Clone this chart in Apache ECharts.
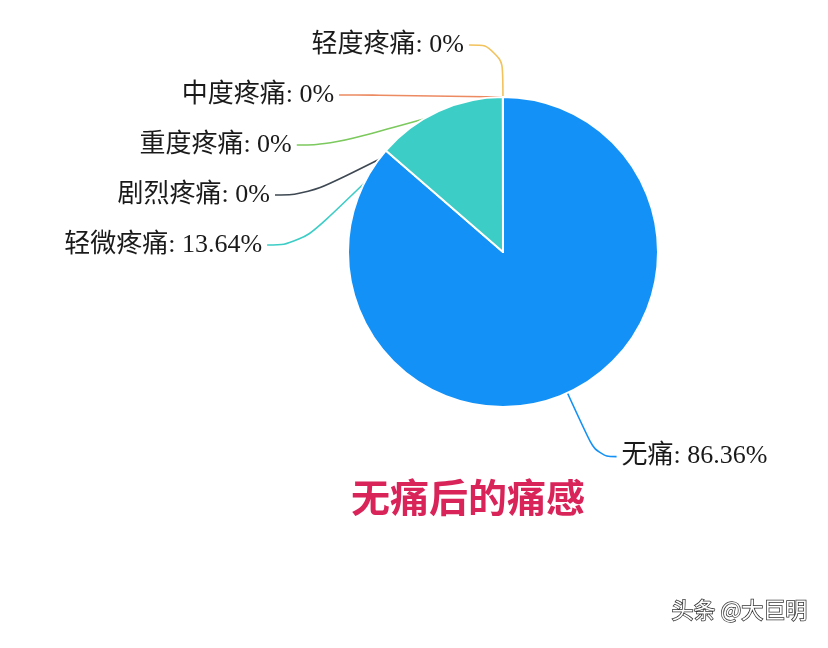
<!DOCTYPE html>
<html>
<head>
<meta charset="utf-8">
<script src="https://cdn.jsdelivr.net/npm/echarts@6/dist/echarts.min.js"></script>
<style>
html,body{margin:0;padding:0;background:#fff;}
#main{width:828px;height:648px;}
</style>
</head>
<body>
<div id="main"></div>
<script>
const categories = ['无痛', '轻微疼痛', '轻度疼痛', '中度疼痛', '重度疼痛', '剧烈疼痛'];
const values = [86.36, 13.64, 0, 0, 0, 0];
const colors = ['#1391f6', '#3ccdc6', '#f2c25c', '#ec8a62', '#7cc95e', '#3d4852'];
const titleText = '无痛后的痛感';
const watermark = '头条 @大巨明';

const chart = echarts.init(document.getElementById('main'));
chart.setOption({
  backgroundColor: '#fff',
  animation: false,
  title: {
    text: titleText,
    left: 463,
    top: 473,
    textAlign: 'center',
    textStyle: {
      color: '#d9245a',
      fontSize: 39,
      fontWeight: 'bold',
      fontFamily: 'Noto Sans CJK SC'
    }
  },
  graphic: [{
    type: 'text',
    right: 20,
    bottom: 27,
    style: {
      text: watermark,
      fill: '#fff',
      stroke: '#333',
      lineWidth: 1.5,
      font: '22px "Noto Sans CJK SC"'
    }
  }],
  series: [{
    type: 'pie',
    center: [503, 252],
    radius: 155,
    startAngle: 90.02,
    clockwise: true,
    avoidLabelOverlap: true,
    itemStyle: { borderColor: '#fff', borderWidth: 2 },
    label: {
      formatter: '{b}: {d}%',
      color: '#1a1a1a',
      fontSize: 26,
      lineHeight: 48,
      fontFamily: "'Liberation Serif', 'Noto Sans CJK SC'"
    },
    labelLine: { length: 52, length2: 34, smooth: 0.5, minTurnAngle: 0, maxSurfaceAngle: 180, lineStyle: { width: 1.6 } },
    data: categories.map((n, i) => {
      const d = { name: n, value: values[i], itemStyle: { color: colors[i] } };
      if (i === 0) d.labelLine = { length: 70, length2: 20 };
      return d;
    })
  }]
});
</script>
</body>
</html>
